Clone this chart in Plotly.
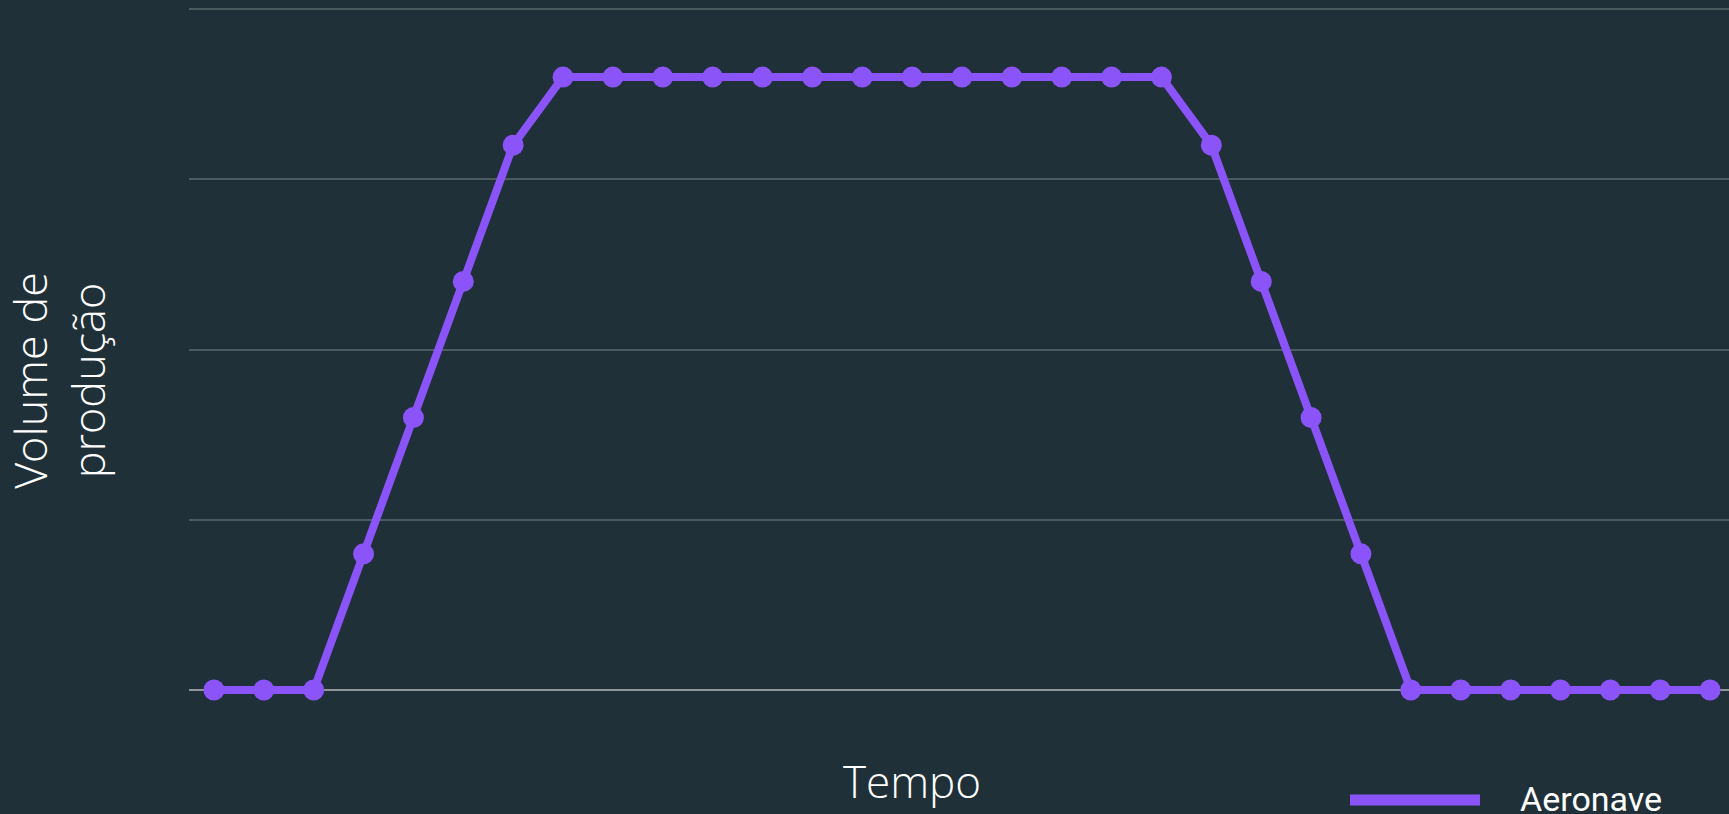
import plotly.graph_objects as go

# Data
time_index = list(range(31))
production = [0, 0, 0, 20, 40, 60, 80, 90, 90, 90, 90, 90, 90, 90, 90, 90, 90,
              90, 90, 90, 80, 60, 40, 20, 0, 0, 0, 0, 0, 0, 0]
series_name = "Aeronave"
x_title = "Tempo"
y_title = "Volume de<br>produção"
y_ticks = [0, 25, 50, 75, 100]

BG = "#1f3038"
PURPLE = "#8b54f9"
GRID = "#4b5b60"
ZERO = "#8f9698"

fig = go.Figure()
fig.add_trace(go.Scatter(
    x=time_index, y=production, name=series_name, mode="lines+markers",
    line=dict(color=PURPLE, width=8),
    marker=dict(color=PURPLE, size=21),
    showlegend=False,
))

fig.update_layout(
    width=1729, height=814,
    paper_bgcolor=BG, plot_bgcolor=BG,
    margin=dict(l=189, r=0, t=0, b=74),
    xaxis=dict(range=[-0.5, 30.38], showgrid=False, zeroline=False,
               showticklabels=False, showline=False, ticks=""),
    yaxis=dict(range=[-7.34, 101.32], tickvals=y_ticks, showticklabels=False,
               showgrid=True, gridcolor=GRID, gridwidth=2,
               zeroline=True, zerolinecolor=ZERO, zerolinewidth=2,
               showline=False, ticks=""),
    showlegend=False,
    shapes=[dict(type="line", xref="paper", yref="paper",
                 x0=0.7539, x1=0.8383, y0=-0.0811, y1=-0.0811,
                 line=dict(color=PURPLE, width=11))],
    annotations=[
        dict(text=x_title, xref="paper", yref="paper", x=0.4695, y=-0.0554,
             xanchor="center", yanchor="middle", showarrow=False,
             font=dict(family="Open Sans", size=44, color="#ffffff", weight=300)),
        dict(text=y_title, xref="paper", yref="paper", x=-0.0845, y=0.4865,
             xanchor="center", yanchor="middle", showarrow=False, textangle=-90,
             font=dict(family="Open Sans", size=45, color="#ffffff", weight=300)),
        dict(text=series_name, xref="paper", yref="paper", x=0.8633, y=-0.0797,
             xanchor="left", yanchor="middle", showarrow=False,
             font=dict(family="Roboto", size=34, color="#ffffff")),
    ],
)

fig.write_html(
    "out.html",
    config={"displayModeBar": False},
    post_script="document.body.style.margin='0';document.body.style.overflow='hidden';"
                "document.body.style.background='" + BG + "';",
)
